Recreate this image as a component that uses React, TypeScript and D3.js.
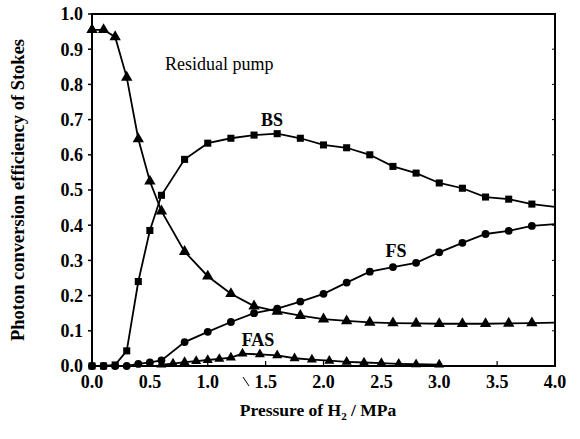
import React from "react";
import * as d3 from "d3";

// Hydrogen pressure (MPa) at which the main curves were sampled
const pressure = [0, 0.1, 0.2, 0.3, 0.4, 0.5, 0.6, 0.8, 1.0, 1.2, 1.4, 1.6, 1.8, 2.0, 2.2, 2.4, 2.6, 2.8, 3.0, 3.2, 3.4, 3.6, 3.8, 4.0];
const residualPump = [0.955, 0.955, 0.935, 0.82, 0.645, 0.525, 0.44, 0.325, 0.255, 0.205, 0.17, 0.155, 0.143, 0.133, 0.128, 0.124, 0.122, 0.121, 0.12, 0.12, 0.12, 0.121, 0.122, 0.123];
const bs = [0, 0, 0.003, 0.043, 0.24, 0.385, 0.485, 0.587, 0.633, 0.647, 0.656, 0.66, 0.647, 0.628, 0.62, 0.6, 0.567, 0.548, 0.52, 0.505, 0.48, 0.474, 0.46, 0.452];
const fs = [0, 0, 0, 0, 0.006, 0.01, 0.016, 0.068, 0.097, 0.125, 0.15, 0.163, 0.183, 0.205, 0.237, 0.268, 0.281, 0.293, 0.323, 0.35, 0.375, 0.384, 0.398, 0.403];

// Anti-Stokes component, sampled more densely
const fasPressure = [0.6, 0.7, 0.8, 0.9, 1.0, 1.1, 1.2, 1.3, 1.45, 1.6, 1.75, 1.9, 2.05, 2.2, 2.35, 2.5, 2.65, 2.8, 3.0];
const fas = [0.004, 0.007, 0.011, 0.014, 0.017, 0.02, 0.024, 0.035, 0.033, 0.03, 0.022, 0.018, 0.015, 0.012, 0.01, 0.008, 0.006, 0.005, 0.004];

const xTicks = [0, 0.5, 1.0, 1.5, 2.0, 2.5, 3.0, 3.5, 4.0];
const yTicks = [0, 0.1, 0.2, 0.3, 0.4, 0.5, 0.6, 0.7, 0.8, 0.9, 1.0];

const W = 580;
const H = 439;
const left = 92;
const right = 555;
const top = 14;
const bottom = 366;

const x = d3.scaleLinear().domain([0, 4]).range([left, right]);
const y = d3.scaleLinear().domain([0, 1]).range([bottom, top]);

const font = "'Liberation Serif', 'DejaVu Serif', serif";

type Pt = [number, number];
const zip = (xs: number[], ys: number[]): Pt[] => xs.map((v, i) => [v, ys[i]]);

const line = d3
  .line<Pt>()
  .x((d) => x(d[0]))
  .y((d) => y(d[1]));

const tri = d3.symbol().type(d3.symbolTriangle).size(56)() as string;
const triSmall = d3.symbol().type(d3.symbolTriangle).size(44)() as string;
const sq = d3.symbol().type(d3.symbolSquare).size(50)() as string;
const circ = d3.symbol().type(d3.symbolCircle).size(48)() as string;

function Series({ pts, marker, skipLast }: { pts: Pt[]; marker: string; skipLast?: boolean }) {
  const shown = skipLast ? pts.slice(0, -1) : pts;
  return (
    <g>
      <path d={line(pts) as string} fill="none" stroke="#000" strokeWidth={1.8} />
      {shown.map((d, i) => (
        <path key={i} d={marker} transform={`translate(${x(d[0])},${y(d[1])})`} fill="#000" />
      ))}
    </g>
  );
}

export default function App() {
  return (
    <svg
      width={W}
      height={H}
      style={{ position: "absolute", left: 0, top: 0, background: "#fff" }}
      fontFamily={font}
    >
      <defs>
        <clipPath id="plot">
          <rect x={left - 6} y={top - 6} width={right - left + 6} height={bottom - top + 12} />
        </clipPath>
      </defs>

      {/* frame */}
      <rect x={left} y={top} width={right - left} height={bottom - top} fill="none" stroke="#000" strokeWidth={2} />

      {/* y ticks and labels */}
      {yTicks.map((t) => (
        <g key={t}>
          <line x1={left - 4} x2={left} y1={y(t)} y2={y(t)} stroke="#000" strokeWidth={1.5} />
          <line x1={right - 3} x2={right} y1={y(t)} y2={y(t)} stroke="#000" strokeWidth={1} />
          <text x={left - 9} y={y(t)} dy="0.35em" textAnchor="end" fontSize={18} fontWeight="bold">
            {t.toFixed(1)}
          </text>
        </g>
      ))}

      {/* x ticks and labels */}
      {xTicks.map((t) => (
        <g key={t}>
          <line x1={x(t)} x2={x(t)} y1={bottom} y2={bottom - 5} stroke="#000" strokeWidth={1.2} />
          <text x={x(t)} y={bottom + 22} textAnchor="middle" fontSize={18} fontWeight="bold">
            {t.toFixed(1)}
          </text>
        </g>
      ))}

      <g clipPath="url(#plot)">
        <Series pts={zip(pressure, residualPump)} marker={tri} skipLast />
        <Series pts={zip(pressure, bs)} marker={sq} skipLast />
        <Series pts={zip(pressure, fs)} marker={circ} skipLast />
        <Series pts={zip(fasPressure, fas)} marker={triSmall} />
      </g>

      {/* leader from the FAS label */}
      <line x1={243} y1={377} x2={249} y2={386} stroke="#000" strokeWidth={1} />

      {/* curve labels */}
      <text x={x(0.63)} y={y(0.86)} dy="0.35em" fontSize={18}>Residual pump</text>
      <text x={x(1.555)} y={y(0.699)} dy="0.35em" textAnchor="middle" fontSize={18} fontWeight="bold">BS</text>
      <text x={x(2.626)} y={y(0.327)} dy="0.35em" textAnchor="middle" fontSize={18} fontWeight="bold">FS</text>
      <text x={x(1.434)} y={y(0.074)} dy="0.35em" textAnchor="middle" fontSize={18} fontWeight="bold">FAS</text>

      {/* axis titles */}
      <text
        transform={`translate(18,${(top + bottom) / 2}) rotate(-90)`}
        textAnchor="middle"
        dy="0.35em"
        fontSize={18.5}
        fontWeight="bold"
      >
        Photon conversion efficiency of Stokes
      </text>
      <text x={318} y={416} textAnchor="middle" fontSize={17.5} fontWeight="bold">
        Pressure of H<tspan fontSize={11} dy={4}>2</tspan>
        <tspan dy={-4}> / MPa</tspan>
      </text>
    </svg>
  );
}
